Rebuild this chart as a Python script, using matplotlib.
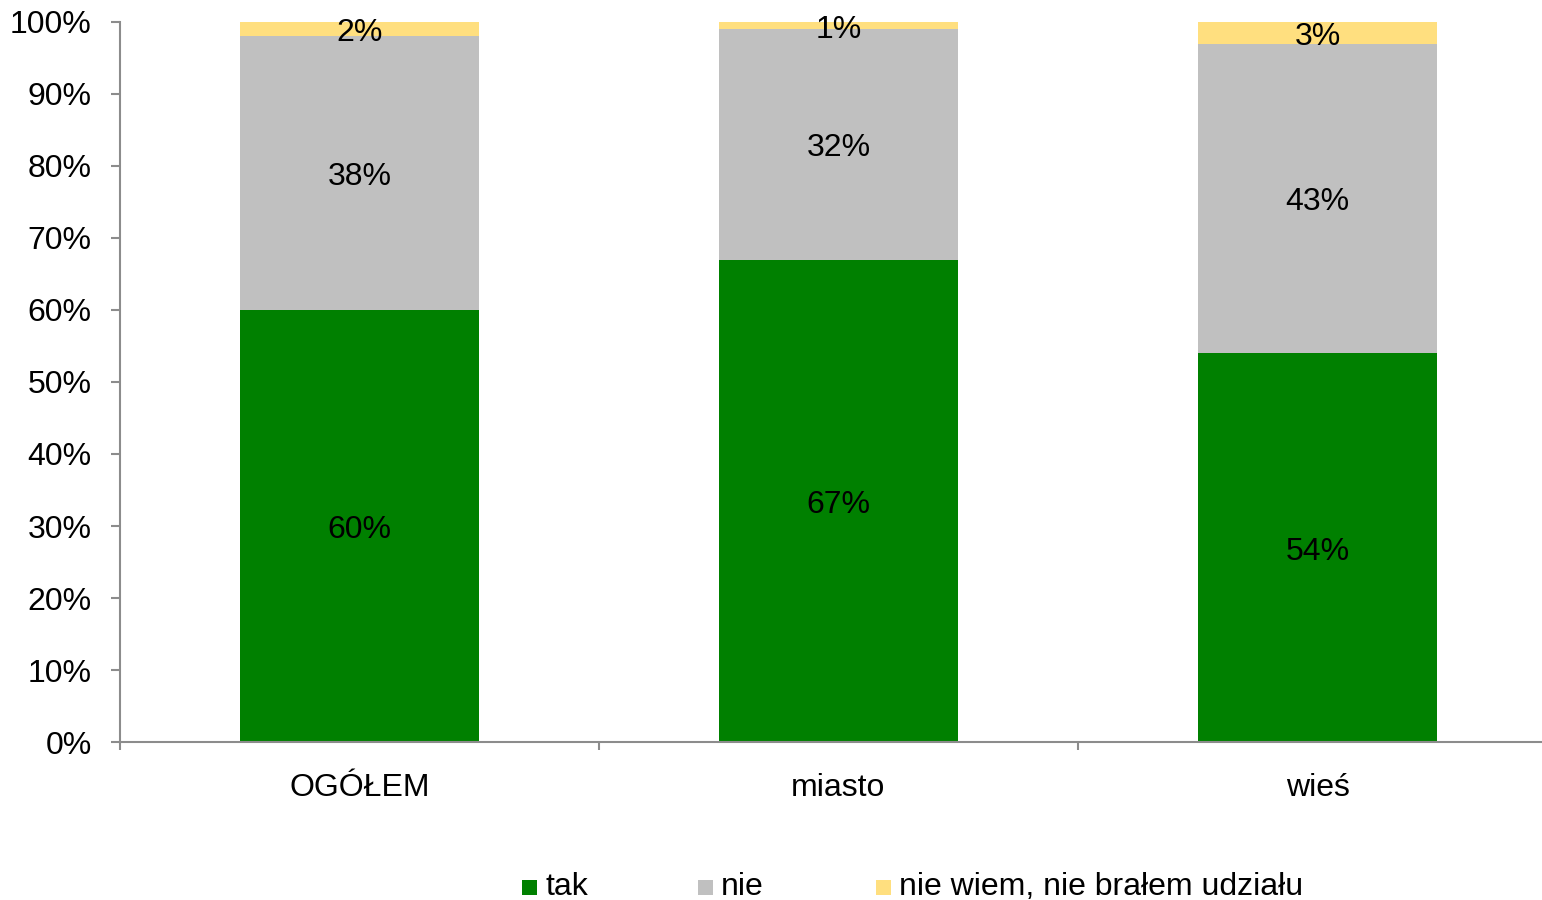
import matplotlib
matplotlib.use("Agg")
import matplotlib.pyplot as plt
from matplotlib.patches import Rectangle
from matplotlib.ticker import FuncFormatter, FixedLocator
import matplotlib.transforms as mtransforms

plt.rcParams['font.family'] = ['Liberation Sans', 'DejaVu Sans']

categories = ["OGÓŁEM", "miasto", "wieś"]
series_names = ["tak", "nie", "nie wiem, nie brałem udziału"]
tak = [60, 67, 54]
nie = [38, 32, 43]
nie_wiem = [2, 1, 3]
series = [tak, nie, nie_wiem]
colors = ["#008000", "#C0C0C0", "#FFDF7F"]

FS = 23
W, H = 1542, 900
fig = plt.figure(figsize=(W / 100, H / 100), dpi=100)
ax = fig.add_axes([120 / W, 1 - 742 / H, 1 - 120 / W, 720 / H])

label_tr = ax.transData + mtransforms.ScaledTranslation(0, -4 / 100, fig.dpi_scale_trans)

x = list(range(len(categories)))
bottom = [0] * len(categories)
for vals, col in zip(series, colors):
    ax.bar(x, vals, width=0.5, bottom=bottom, color=col, edgecolor='none', zorder=2)
    for xi, b, v in zip(x, bottom, vals):
        ax.text(xi, b + v / 2, f"{v}%", ha='center', va='center', fontsize=FS, color='black',
                zorder=3, transform=label_tr)
    bottom = [b + v for b, v in zip(bottom, vals)]

ax.set_ylim(0, 100)
ax.set_xlim(-0.5, -0.5 + (W - 120) / 479)
ax.yaxis.set_major_locator(FixedLocator(range(0, 101, 10)))
ax.yaxis.set_major_formatter(FuncFormatter(lambda v, p: f"{int(v)}%"))
ax.set_xticks([-0.5, 0.5, 1.5])
ax.set_xticklabels([])
ax.set_xticks(x, minor=True)
ax.set_xticklabels(categories, minor=True)

axis_col = "#8C8C8C"
for s in ['top', 'right']:
    ax.spines[s].set_visible(False)
for s in ['left', 'bottom']:
    ax.spines[s].set_color(axis_col)
    ax.spines[s].set_linewidth(1.5)
ax.tick_params(axis='y', which='major', direction='out', length=6.5, width=1.5, color=axis_col,
               labelsize=FS, pad=14, labelcolor='black')
ax.tick_params(axis='x', which='major', direction='out', length=6, width=1.5, color=axis_col)
ax.tick_params(axis='x', which='minor', length=0, labelsize=FS, pad=22.5, labelcolor='black')

# legend (manual, Excel-like slots)
leg_y = 1 - 887 / H
leg_x = [522, 698, 876]
sq = 15
for lx, name, col in zip(leg_x, series_names, colors):
    fig.patches.append(Rectangle((lx / W, leg_y - sq / 2 / H), sq / W, sq / H,
                                 transform=fig.transFigure, facecolor=col, edgecolor='none'))
    fig.text((lx + sq + 8) / W, leg_y, name, ha='left', va='center', fontsize=FS, color='black')

fig.savefig("out.png", dpi=100)
